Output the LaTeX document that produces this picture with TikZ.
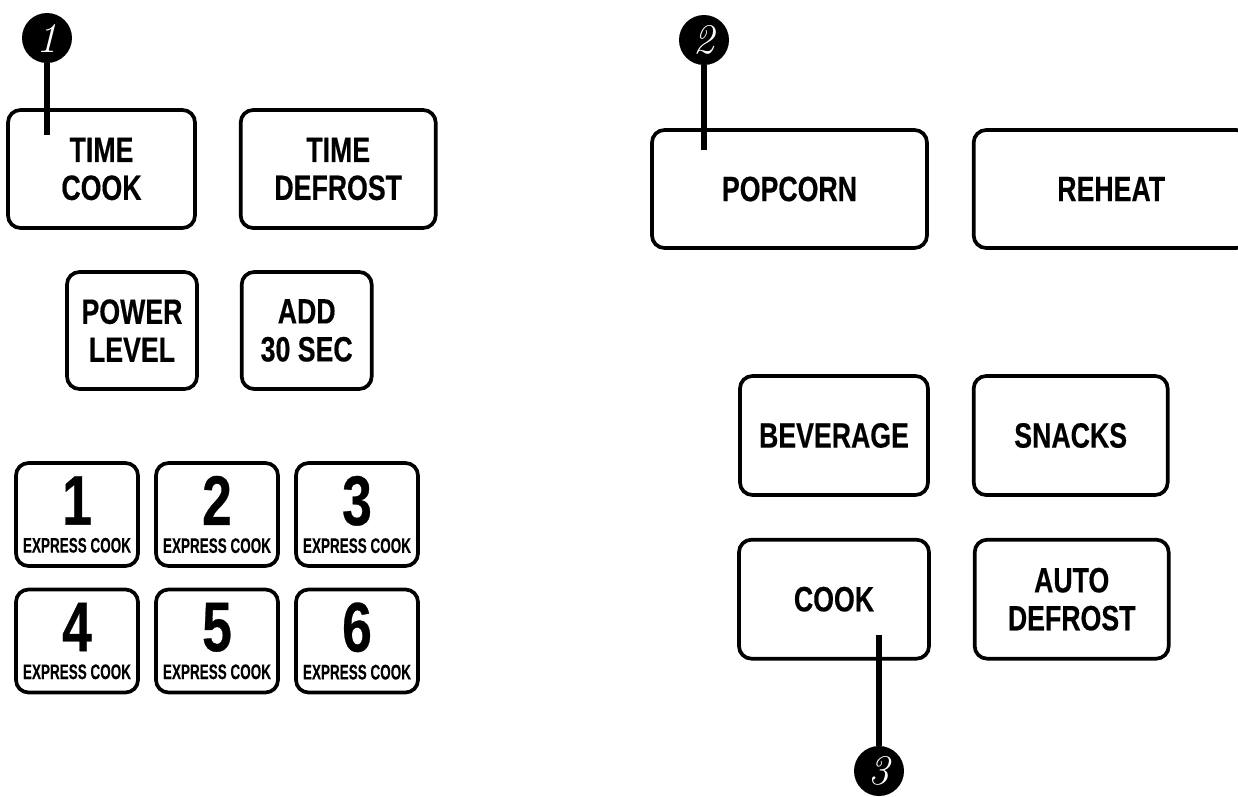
\documentclass[tikz,border=0pt]{standalone}
\usepackage{fontspec}
\usepackage{tikz}
\usetikzlibrary{positioning}
\newfontfamily\keyfont[FakeStretch=0.76, BoldFeatures={FakeBold=0.4}]{Liberation Sans}
\newfontfamily\smallkeyfont[FakeStretch=0.64, BoldFeatures={FakeBold=0.2}]{Liberation Sans}

\begin{document}
\begin{tikzpicture}[
      keybox/.style={draw, line width=2.1pt, rounded corners=0.25cm, align=center, inner sep=0pt, font=\keyfont\bfseries\fontsize{20}{21.6}\selectfont},
      numkey/.style={keybox, minimum width=2.44cm, minimum height=2.06cm, font=\smallkeyfont\bfseries\fontsize{12}{15.9}\selectfont},
      callout/.style={circle, fill=black, text=white, minimum size=1cm, inner sep=0pt, font=\itshape\fontsize{24}{24}\selectfont},
      callline/.style={line width=3.2pt}
    ]
      \path[use as bounding box, clip] (0,0) rectangle (24.76,-15.92);
      % left panel
      \node[keybox, minimum width=3.74cm, minimum height=2.36cm] (timecook) at (2.03,-3.38) {TIME\\COOK};
      \node[keybox, minimum width=3.9cm, minimum height=2.36cm, right=0.84cm of timecook] (timedefrost) {TIME\\DEFROST};
      \node[keybox, minimum width=2.6cm, minimum height=2.34cm] (powerlevel) at (2.64,-6.61) {POWER\\LEVEL};
      \node[keybox, minimum width=2.6cm, minimum height=2.34cm, right=0.82cm of powerlevel] (addsec) {ADD\\30 SEC};
      \foreach \n [count=\i from 0] in {1,...,6} {
        \pgfmathsetmacro\col{mod(\i,3)}
        \pgfmathsetmacro\row{int(\i/3)}
        \node[numkey] (key\n) at (1.54+2.8*\col,-10.29-2.53*\row)
          {{\keyfont\fontsize{40}{40}\selectfont\n}\\EXPRESS COOK};
      }
      % right panel
      \node[keybox, minimum width=5.5cm, minimum height=2.36cm] (popcorn) at (15.79,-3.78) {POPCORN};
      \node[keybox, minimum width=5.5cm, minimum height=2.36cm, right=0.86cm of popcorn] (reheat) {REHEAT};
      \node[keybox, minimum width=3.76cm, minimum height=2.38cm] (beverage) at (16.68,-8.71) {BEVERAGE};
      \node[keybox, minimum width=3.88cm, minimum height=2.38cm, right=0.84cm of beverage] (snacks) {SNACKS};
      \node[keybox, minimum width=3.8cm, minimum height=2.38cm, below=0.82cm of beverage] (cook) {COOK};
      \node[keybox, minimum width=3.88cm, minimum height=2.38cm, right=0.84cm of cook] (autodefrost) {AUTO\\DEFROST};
      % callouts
      \node[callout] (c1) at (0.94,-0.76) {1};
      \coordinate (c1end) at (0.94,-2.7);
      \node[callout] (c2) at (14.08,-0.8) {2};
      \coordinate (c2end) at (14.08,-3.0);
      \node[callout] (c3) at (17.58,-15.42) {3};
      \coordinate (c3end) at (17.58,-12.7);
      \draw[callline] (c1) -- (c1end);
      \draw[callline] (c2) -- (c2end);
      \draw[callline] (c3) -- (c3end);
    \end{tikzpicture}
\end{document}
